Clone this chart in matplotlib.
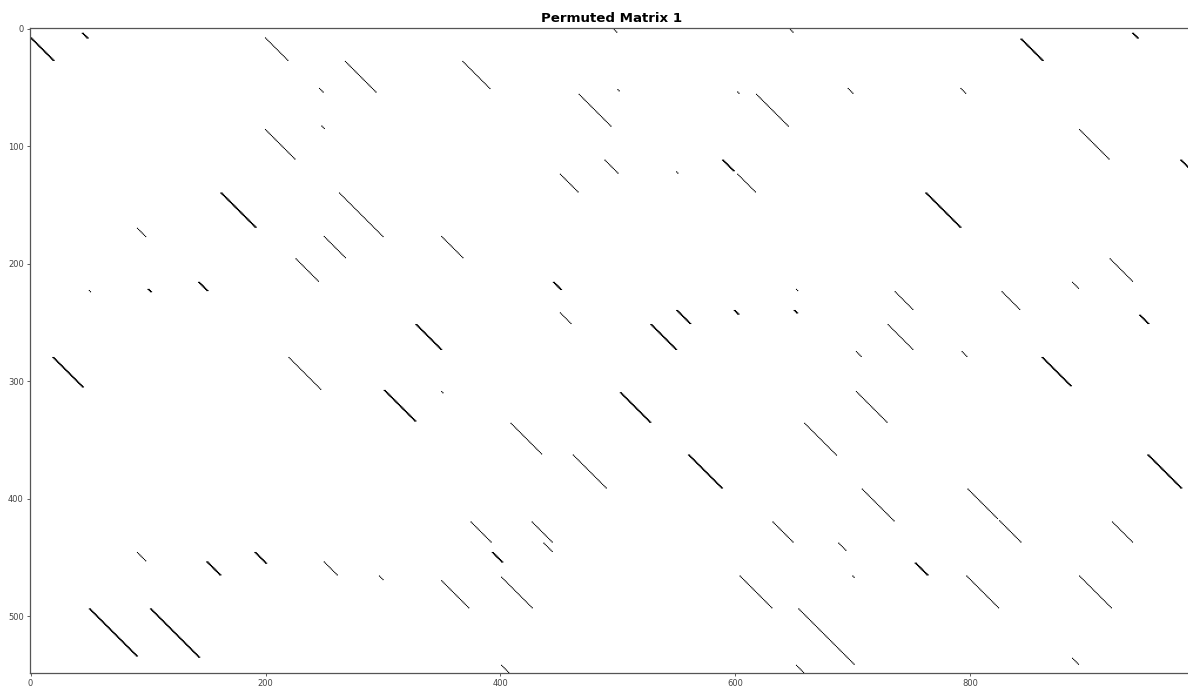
import numpy as np
import matplotlib
matplotlib.use("Agg")
import matplotlib.pyplot as plt

# Matrix size
n_rows = 549
n_cols = 990

# Diagonal segments: start column, start row, length (rows), width (adjacent diagonals)
seg_col = [0, 44, 200, 268, 368, 496, 646, 843, 938, 988,
           246, 467, 500, 602, 618, 696, 792, 248, 200, 893,
           979, 451, 489, 550, 589, 602, 162, 263, 762, 91,
           250, 226, 350, 50, 100, 143, 445, 451, 550, 599,
           652, 650, 736, 827, 887, 919, 944, 328, 528, 730,
           703, 793, 861, 989, 19, 220, 301, 350, 502, 703,
           409, 659, 462, 560, 951, 708, 798, 825, 375, 427,
           437, 393, 632, 688, 700, 753, 921, 797, 893, 350,
           401, 604, 654, 652, 887, 401, 91, 150, 191, 250,
           297, 50, 102]
seg_row = [8, 4, 8, 28, 28, 0, 0, 9, 4, 0,
           51, 56, 52, 54, 56, 51, 51, 83, 86, 86,
           112, 124, 112, 122, 112, 124, 140, 140, 140, 170,
           177, 196, 177, 223, 222, 216, 216, 242, 240, 240,
           222, 240, 224, 224, 216, 196, 244, 252, 252, 252,
           275, 275, 280, 306, 280, 280, 308, 309, 310, 309,
           336, 336, 363, 363, 363, 392, 392, 419, 420, 420,
           438, 446, 420, 438, 466, 455, 420, 466, 466, 470,
           467, 466, 494, 542, 536, 542, 446, 454, 446, 454,
           466, 494, 494]
seg_len = [19, 4, 19, 26, 23, 3, 3, 18, 4, 1,
           3, 27, 1, 1, 27, 4, 4, 2, 25, 25,
           9, 15, 11, 1, 9, 15, 29, 37, 29, 7,
           18, 19, 18, 1, 2, 7, 6, 9, 11, 3,
           1, 2, 15, 15, 5, 19, 7, 21, 21, 21,
           4, 4, 24, 1, 25, 27, 26, 1, 25, 26,
           26, 27, 28, 28, 28, 27, 25, 18, 17, 17,
           7, 8, 17, 6, 1, 10, 17, 27, 27, 23,
           26, 27, 47, 7, 5, 7, 7, 11, 9, 11,
           3, 40, 41]
seg_width = [2, 2, 1, 1, 1, 1, 1, 2, 2, 1,
             1, 1, 1, 1, 1, 1, 1, 1, 1, 1,
             2, 1, 1, 1, 2, 1, 2, 1, 2, 1,
             1, 1, 1, 1, 2, 2, 2, 1, 2, 2,
             1, 2, 1, 1, 1, 1, 2, 2, 2, 1,
             1, 1, 2, 1, 2, 1, 2, 1, 2, 1,
             1, 1, 1, 2, 2, 1, 1, 1, 1, 1,
             1, 2, 1, 1, 1, 2, 1, 1, 1, 1,
             1, 1, 1, 1, 1, 1, 1, 2, 2, 1,
             1, 2, 2]

title_text = "Permuted Matrix 1"
x_ticks = [0, 200, 400, 600, 800]
y_ticks = [0, 100, 200, 300, 400, 500]

M = np.zeros((n_rows, n_cols))
for c, r, L, w in zip(seg_col, seg_row, seg_len, seg_width):
    for k in range(L + 1):
        for d in range(w):
            rr, cc = r + k, c + k + d
            if 0 <= rr < n_rows and 0 <= cc < n_cols:
                M[rr, cc] = 1

W, H = 1188, 691
fig = plt.figure(figsize=(W / 100, H / 100), dpi=100)
ax = fig.add_axes([30 / W, (H - 673) / H, 1163 / W, 645 / H])
ax.imshow(M, cmap="binary", aspect="auto")
ax.set_xticks(x_ticks)
ax.set_yticks(y_ticks)
ax.tick_params(labelsize=6, length=2.5, width=0.6, colors="#444444", pad=2)
for s in ax.spines.values():
    s.set_color("#555555")
    s.set_linewidth(0.9)
ax.set_title(title_text, fontsize=9.6, fontweight="bold", pad=4)
fig.savefig("out.png", dpi=100)
